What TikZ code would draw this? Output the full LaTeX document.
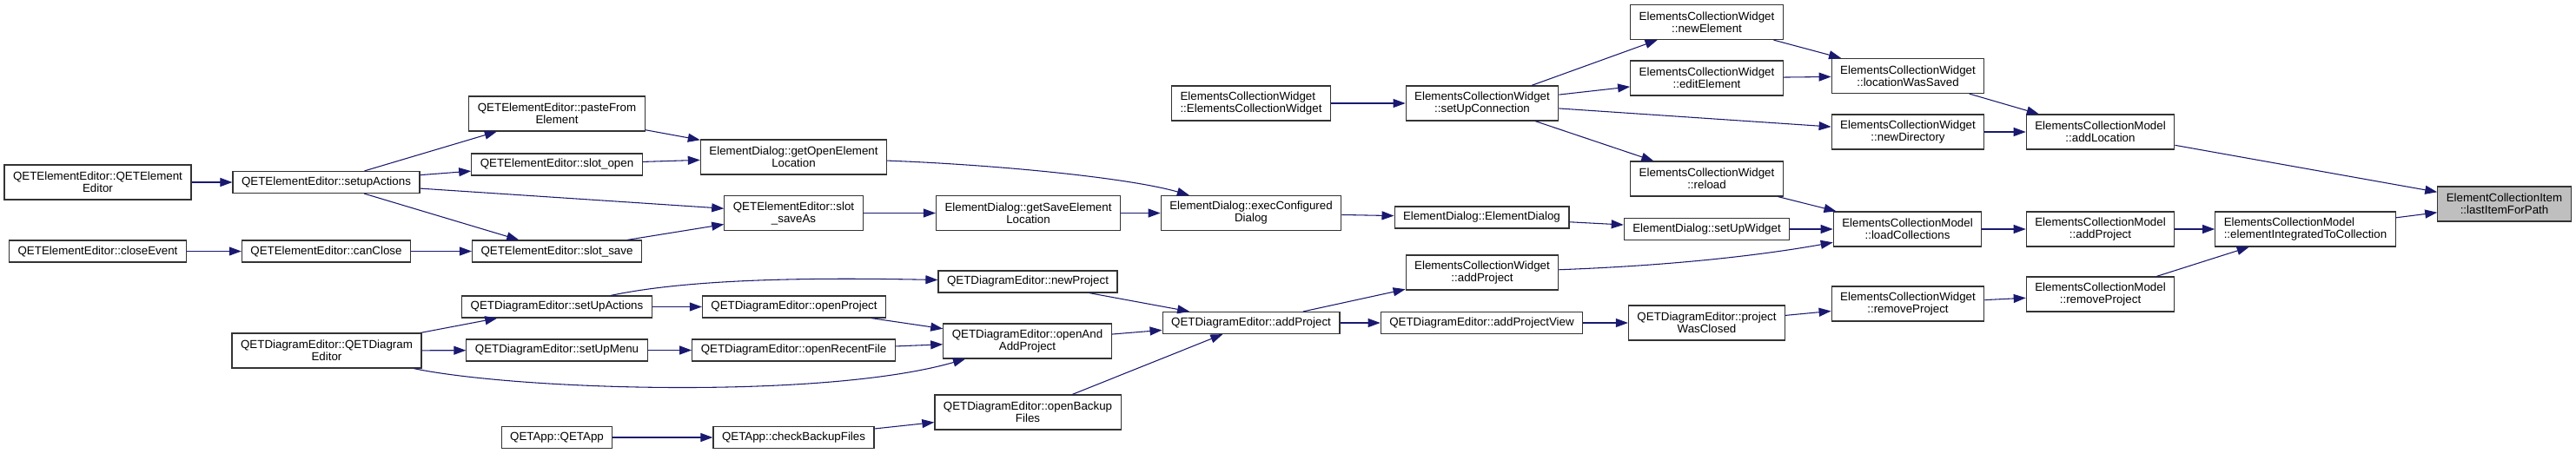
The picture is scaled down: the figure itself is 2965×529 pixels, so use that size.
\documentclass[tikz,border=0pt]{standalone}
\usepackage{fontspec}
\setmainfont{Liberation Sans}
\usetikzlibrary{arrows.meta}
\definecolor{navy}{HTML}{191970}
\definecolor{boxline}{HTML}{333333}
\tikzset{
    func/.style = {
        rectangle,
        draw=boxline,
        line width=0.9pt,
        fill=white,
        inner xsep=7.5pt,
        inner ysep=2pt,
        minimum height=18.75pt,
        align=center,
        font=\fontsize{10pt}{10.5pt}\selectfont,
    },
    twoline/.style = {minimum height=30pt},
    here/.style = {fill=black!25},
    call/.style = {->, >={Triangle[length=10.5pt,width=7.5pt]}, draw=navy, line width=0.8pt}
}
\begin{document}
\begin{tikzpicture}[x=0.75pt, y=-0.75pt]
  \useasboundingbox (0,0) rectangle (2965,529);

  % Define all functions, right to left, one column at a time
  \node[func, twoline, here] (f1) at (2882.5,235) {ElementCollectionItem\\::lastItemForPath};

  \node[func, twoline] (f2) at (2417.5,152) {ElementsCollectionModel\\::addLocation};
  \node[func, twoline, align=left] (f3) at (2653.5,264) {ElementsCollectionModel\\::elementIntegratedToCollection};
  \node[func, twoline] (f4) at (2417.5,264) {ElementsCollectionModel\\::addProject};
  \node[func, twoline] (f5) at (2417.5,339) {ElementsCollectionModel\\::removeProject};

  \node[func, twoline] (f6) at (2196,87.5)  {ElementsCollectionWidget\\::locationWasSaved};
  \node[func, twoline] (f7) at (2196,152)   {ElementsCollectionWidget\\::newDirectory};
  \node[func, twoline] (f8) at (2195.5,264) {ElementsCollectionModel\\::loadCollections};
  \node[func, twoline] (f9) at (2196,350)   {ElementsCollectionWidget\\::removeProject};

  \node[func, twoline] (f10) at (1964.5,25.5) {ElementsCollectionWidget\\::newElement};
  \node[func, twoline] (f11) at (1964.5,90)   {ElementsCollectionWidget\\::editElement};
  \node[func, twoline] (f12) at (1964.5,206)  {ElementsCollectionWidget\\::reload};
  \node[func]          (f13) at (1964.5,264)  {ElementDialog::setUpWidget};
  \node[func, twoline] (f14) at (1964.5,372)  {QETDiagramEditor::project\\WasClosed};

  \node[func, twoline] (f15) at (1706,119)   {ElementsCollectionWidget\\::setUpConnection};
  \node[func]          (f16) at (1705.5,250.5) {ElementDialog::ElementDialog};
  \node[func, twoline] (f17) at (1706,314)   {ElementsCollectionWidget\\::addProject};
  \node[func]          (f18) at (1705.5,372) {QETDiagramEditor::addProjectView};

  \node[func, twoline, align=left] (f19) at (1440,119) {ElementsCollectionWidget\\::ElementsCollectionWidget};
  \node[func, twoline] (f20) at (1440,245.5) {ElementDialog::execConfigured\\Dialog};
  \node[func]          (f21) at (1440,372)   {QETDiagramEditor::addProject};

  \node[func, twoline] (f22) at (1183.5,245.5) {ElementDialog::getSaveElement\\Location};
  \node[func]          (f23) at (1183,324.5)   {QETDiagramEditor::newProject};
  \node[func, twoline] (f24) at (1182.5,393)   {QETDiagramEditor::openAnd\\AddProject};
  \node[func, twoline] (f25) at (1183,475)     {QETDiagramEditor::openBackup\\Files};

  \node[func, twoline] (f26) at (913.5,181)   {ElementDialog::getOpenElement\\Location};
  \node[func, twoline] (f27) at (913.5,245.5) {QETElementEditor::slot\\\_saveAs};
  \node[func]          (f28) at (914,353.5)   {QETDiagramEditor::openProject};
  \node[func]          (f29) at (913.5,403.5) {QETDiagramEditor::openRecentFile};
  \node[func]          (f30) at (913.5,504)   {QETApp::checkBackupFiles};

  \node[func, twoline] (f31) at (641,131)   {QETElementEditor::pasteFrom\\Element};
  \node[func]          (f32) at (641,189.5) {QETElementEditor::slot\_open};
  \node[func]          (f33) at (641,289.5) {QETElementEditor::slot\_save};
  \node[func]          (f34) at (641,353.5) {QETDiagramEditor::setUpActions};
  \node[func]          (f35) at (641,403.5) {QETDiagramEditor::setUpMenu};
  \node[func]          (f36) at (641,504)   {QETApp::QETApp};

  \node[func]          (f37) at (375.5,210)   {QETElementEditor::setupActions};
  \node[func]          (f38) at (375.5,289.5) {QETElementEditor::canClose};
  \node[func, twoline] (f39) at (376,404)     {QETDiagramEditor::QETDiagram\\Editor};

  \node[func, twoline] (f40) at (112.5,210)   {QETElementEditor::QETElement\\Editor};
  \node[func]          (f41) at (112.5,289.5) {QETElementEditor::closeEvent};

  % Calls into lastItemForPath
  \draw[call] (f2) -- (f1);
  \draw[call] (f3) -- (f1);

  % Model column
  \draw[call] (f4) -- (f3);
  \draw[call] (f5) -- (f3);
  \draw[call] (f6) -- (f2);
  \draw[call] (f7) -- (f2);
  \draw[call] (f8) -- (f4);
  \draw[call] (f9) -- (f5);

  % Widget column
  \draw[call] (f10) -- (f6);
  \draw[call] (f11) -- (f6);
  \draw[call] (f12) -- (f8);
  \draw[call] (f13) -- (f8);
  \draw[call] (f17) .. controls (1950,305) and (2050,290) .. (f8);
  \draw[call] (f14) -- (f9);

  % Connections from setUpConnection
  \draw[call] (f15) -- (f10);
  \draw[call] (f15) -- (f11);
  \draw[call] (f15) -- (f7);
  \draw[call] (f15) -- (f12);
  \draw[call] (f16) -- (f13);
  \draw[call] (f18) -- (f14);

  \draw[call] (f19) -- (f15);
  \draw[call] (f20) -- (f16);
  \draw[call] (f21) -- (f17);
  \draw[call] (f21) -- (f18);

  % Dialog and project calls
  \draw[call] (f22) -- (f20);
  \draw[call] (f26) .. controls (1150,190) and (1300,205) .. (f20);
  \draw[call] (f23) -- (f21);
  \draw[call] (f24) -- (f21);
  \draw[call] (f25) -- (f21);

  \draw[call] (f27) -- (f22);
  \draw[call] (f31) -- (f26);
  \draw[call] (f32) -- (f26);
  \draw[call] (f33) -- (f27);
  \draw[call] (f37) -- (f27);
  \draw[call] (f34) .. controls (800,320) and (950,320) .. (f23);
  \draw[call] (f34) -- (f28);
  \draw[call] (f28) -- (f24);
  \draw[call] (f29) -- (f24);
  \draw[call] (f39) .. controls (600,450) and (950,460) .. (f24);
  \draw[call] (f30) -- (f25);
  \draw[call] (f35) -- (f29);
  \draw[call] (f36) -- (f30);

  % Connections from the editors
  \draw[call] (f37) -- (f31);
  \draw[call] (f37) -- (f32);
  \draw[call] (f37) -- (f33);
  \draw[call] (f38) -- (f33);
  \draw[call] (f39) -- (f34);
  \draw[call] (f39) -- (f35);
  \draw[call] (f40) -- (f37);
  \draw[call] (f41) -- (f38);

\end{tikzpicture}
\end{document}
